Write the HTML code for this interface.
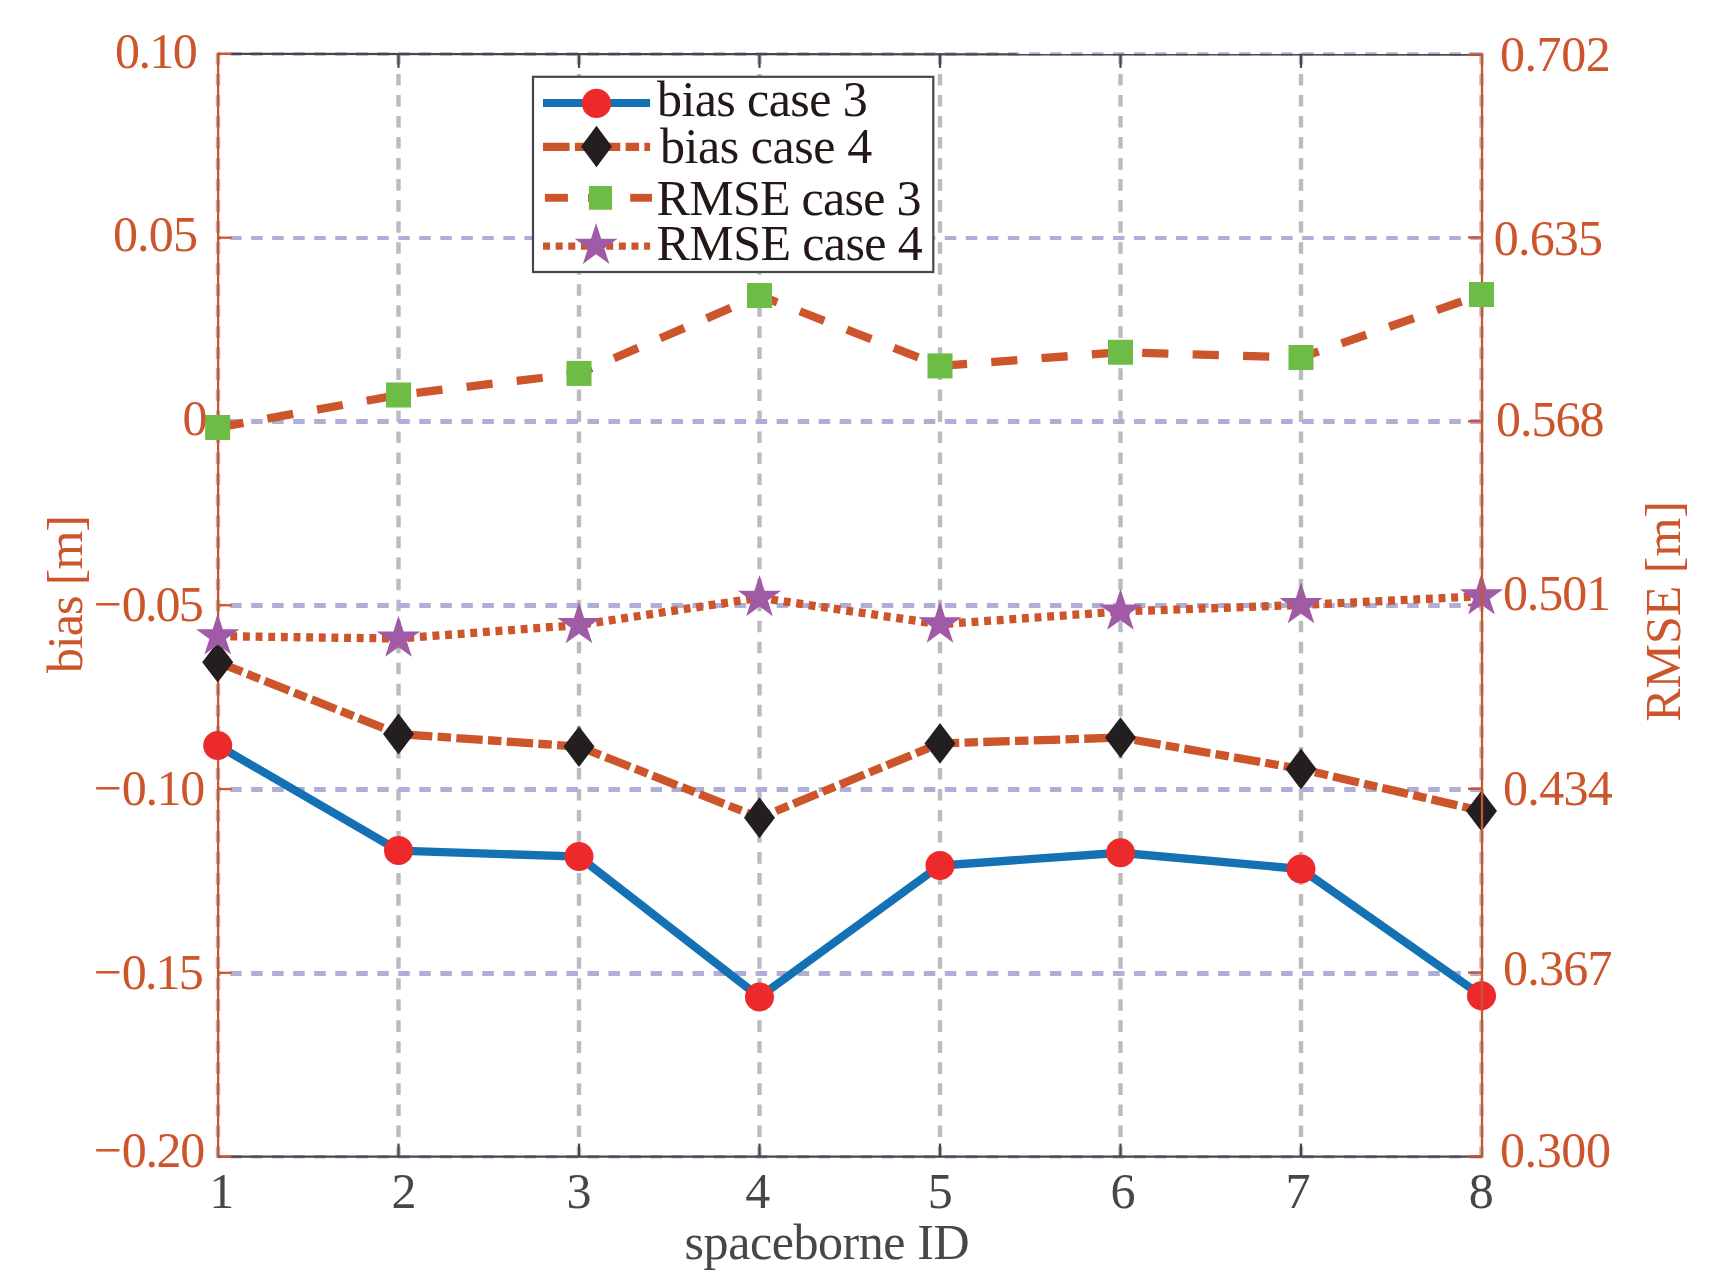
<!DOCTYPE html>
<html lang="en"><head><meta charset="utf-8"><title>bias and RMSE by spaceborne ID</title>
<style>html,body{margin:0;padding:0;background:#fff}svg{display:block}</style></head>
<body>
<svg width="1732" height="1284" viewBox="0 0 1732 1284" font-family="'Liberation Serif', 'Times New Roman', serif">
<rect width="1732" height="1284" fill="#fff"/>
<line x1="218.00" y1="52.90" x2="218.00" y2="1157.60" stroke="#bbbcc0" stroke-width="4.4" stroke-dasharray="11.6 9.43"/>
<line x1="398.50" y1="52.90" x2="398.50" y2="1157.60" stroke="#bbbcc0" stroke-width="4.4" stroke-dasharray="11.6 9.43"/>
<line x1="579.00" y1="52.90" x2="579.00" y2="1157.60" stroke="#bbbcc0" stroke-width="4.4" stroke-dasharray="11.6 9.43"/>
<line x1="759.50" y1="52.90" x2="759.50" y2="1157.60" stroke="#bbbcc0" stroke-width="4.4" stroke-dasharray="11.6 9.43"/>
<line x1="940.00" y1="52.90" x2="940.00" y2="1157.60" stroke="#bbbcc0" stroke-width="4.4" stroke-dasharray="11.6 9.43"/>
<line x1="1120.50" y1="52.90" x2="1120.50" y2="1157.60" stroke="#bbbcc0" stroke-width="4.4" stroke-dasharray="11.6 9.43"/>
<line x1="1301.00" y1="52.90" x2="1301.00" y2="1157.60" stroke="#bbbcc0" stroke-width="4.4" stroke-dasharray="11.6 9.43"/>
<line x1="1481.50" y1="52.90" x2="1481.50" y2="1157.60" stroke="#bbbcc0" stroke-width="4.4" stroke-dasharray="11.6 9.43"/>
<line x1="218.1" y1="54.00" x2="1482.0" y2="54.00" stroke="#b0aed6" stroke-width="3.6" stroke-dasharray="11.5 9.52" stroke-dashoffset="9.00"/>
<line x1="218.1" y1="238.00" x2="1482.0" y2="238.00" stroke="#b0aed6" stroke-width="4" stroke-dasharray="11.5 9.52" stroke-dashoffset="9.00"/>
<line x1="218.1" y1="421.50" x2="1482.0" y2="421.50" stroke="#b0aed6" stroke-width="5" stroke-dasharray="11.5 9.52" stroke-dashoffset="9.00"/>
<line x1="218.1" y1="605.50" x2="1482.0" y2="605.50" stroke="#b0aed6" stroke-width="5" stroke-dasharray="11.5 9.52" stroke-dashoffset="9.00"/>
<line x1="218.1" y1="789.50" x2="1482.0" y2="789.50" stroke="#b0aed6" stroke-width="5" stroke-dasharray="11.5 9.52" stroke-dashoffset="9.00"/>
<line x1="218.1" y1="973.50" x2="1482.0" y2="973.50" stroke="#b0aed6" stroke-width="5" stroke-dasharray="11.5 9.52" stroke-dashoffset="9.00"/>
<line x1="218.1" y1="1156.70" x2="1482.0" y2="1156.70" stroke="#b0aed6" stroke-width="3.6" stroke-dasharray="11.5 9.52" stroke-dashoffset="9.00"/>
<line x1="218.1" y1="53.9" x2="1482.0" y2="54.5" stroke="#48464a" stroke-width="2.3"/>
<line x1="218.1" y1="1156.6" x2="1482.0" y2="1156.6" stroke="#48464a" stroke-width="2.3"/>
<line x1="398.50" y1="53.9" x2="398.50" y2="67.9" stroke="#48464a" stroke-width="2.2"/>
<line x1="398.50" y1="1156.6" x2="398.50" y2="1143.6" stroke="#48464a" stroke-width="2.2"/>
<line x1="579.00" y1="53.9" x2="579.00" y2="67.9" stroke="#48464a" stroke-width="2.2"/>
<line x1="579.00" y1="1156.6" x2="579.00" y2="1143.6" stroke="#48464a" stroke-width="2.2"/>
<line x1="759.50" y1="53.9" x2="759.50" y2="67.9" stroke="#48464a" stroke-width="2.2"/>
<line x1="759.50" y1="1156.6" x2="759.50" y2="1143.6" stroke="#48464a" stroke-width="2.2"/>
<line x1="940.00" y1="53.9" x2="940.00" y2="67.9" stroke="#48464a" stroke-width="2.2"/>
<line x1="940.00" y1="1156.6" x2="940.00" y2="1143.6" stroke="#48464a" stroke-width="2.2"/>
<line x1="1120.50" y1="53.9" x2="1120.50" y2="67.9" stroke="#48464a" stroke-width="2.2"/>
<line x1="1120.50" y1="1156.6" x2="1120.50" y2="1143.6" stroke="#48464a" stroke-width="2.2"/>
<line x1="1301.00" y1="53.9" x2="1301.00" y2="67.9" stroke="#48464a" stroke-width="2.2"/>
<line x1="1301.00" y1="1156.6" x2="1301.00" y2="1143.6" stroke="#48464a" stroke-width="2.2"/>
<line x1="218.1" y1="52.75" x2="218.1" y2="1157.75" stroke="#cd552b" stroke-width="2.3"/>
<line x1="218.1" y1="53.90" x2="231.6" y2="53.90" stroke="#cd552b" stroke-width="2.3"/>
<line x1="218.1" y1="237.68" x2="231.6" y2="237.68" stroke="#cd552b" stroke-width="2.3"/>
<line x1="218.1" y1="421.47" x2="231.6" y2="421.47" stroke="#cd552b" stroke-width="2.3"/>
<line x1="218.1" y1="605.25" x2="231.6" y2="605.25" stroke="#cd552b" stroke-width="2.3"/>
<line x1="218.1" y1="789.03" x2="231.6" y2="789.03" stroke="#cd552b" stroke-width="2.3"/>
<line x1="218.1" y1="972.82" x2="231.6" y2="972.82" stroke="#cd552b" stroke-width="2.3"/>
<line x1="218.1" y1="1156.60" x2="231.6" y2="1156.60" stroke="#cd552b" stroke-width="2.3"/>
<line x1="1482.0" y1="54.50" x2="1468.0" y2="54.50" stroke="#cd552b" stroke-width="2.3"/>
<line x1="1482.0" y1="237.48" x2="1468.0" y2="237.48" stroke="#cd552b" stroke-width="2.3"/>
<line x1="1482.0" y1="421.27" x2="1468.0" y2="421.27" stroke="#cd552b" stroke-width="2.3"/>
<line x1="1482.0" y1="605.05" x2="1468.0" y2="605.05" stroke="#cd552b" stroke-width="2.3"/>
<line x1="1482.0" y1="788.83" x2="1468.0" y2="788.83" stroke="#cd552b" stroke-width="2.3"/>
<line x1="1482.0" y1="972.62" x2="1468.0" y2="972.62" stroke="#cd552b" stroke-width="2.3"/>
<line x1="1482.0" y1="1156.40" x2="1468.0" y2="1156.40" stroke="#cd552b" stroke-width="2.3"/>
<polyline points="217.70,745.40 398.50,850.60 579.00,856.60 759.50,997.00 940.00,865.50 1120.50,852.75 1301.00,869.00 1481.50,995.70" fill="none" stroke="#1471b4" stroke-width="8.3" stroke-linejoin="miter"/>
<circle cx="217.70" cy="745.4" r="14.5" fill="#ed2a2b"/>
<circle cx="398.50" cy="850.6" r="14.5" fill="#ed2a2b"/>
<circle cx="579.00" cy="856.6" r="14.5" fill="#ed2a2b"/>
<circle cx="759.50" cy="997" r="14.5" fill="#ed2a2b"/>
<circle cx="940.00" cy="865.5" r="14.5" fill="#ed2a2b"/>
<circle cx="1120.50" cy="852.75" r="14.5" fill="#ed2a2b"/>
<circle cx="1301.00" cy="869" r="14.5" fill="#ed2a2b"/>
<circle cx="1481.50" cy="995.7" r="14.5" fill="#ed2a2b"/>
<polyline points="217.70,662.20 398.50,734.00 579.00,746.60 759.50,817.75 940.00,743.40 1120.50,737.60 1301.00,769.00 1481.50,811.00" fill="none" stroke="#cd552b" stroke-width="8.3" stroke-dasharray="26.45 5.3 13.45 5.3" stroke-linejoin="miter"/>
<polygon points="217.70,641.80 233.20,662.20 217.70,682.60 202.20,662.20" fill="#231f20"/>
<polygon points="398.50,713.60 414.00,734.00 398.50,754.40 383.00,734.00" fill="#231f20"/>
<polygon points="579.00,726.20 594.50,746.60 579.00,767.00 563.50,746.60" fill="#231f20"/>
<polygon points="759.50,797.35 775.00,817.75 759.50,838.15 744.00,817.75" fill="#231f20"/>
<polygon points="940.00,723.00 955.50,743.40 940.00,763.80 924.50,743.40" fill="#231f20"/>
<polygon points="1120.50,717.20 1136.00,737.60 1120.50,758.00 1105.00,737.60" fill="#231f20"/>
<polygon points="1301.00,748.60 1316.50,769.00 1301.00,789.40 1285.50,769.00" fill="#231f20"/>
<polygon points="1481.50,790.60 1497.00,811.00 1481.50,831.40 1466.00,811.00" fill="#231f20"/>
<polyline points="217.70,636.20 398.50,638.50 579.00,625.00 759.50,597.80 940.00,624.30 1120.50,611.50 1301.00,605.00 1481.50,596.20" fill="none" stroke="#cd552b" stroke-width="8.3" stroke-dasharray="6.9 5.74" stroke-linejoin="miter"/>
<polygon points="217.70,613.50 222.80,629.19 239.29,629.19 225.95,638.88 231.04,654.56 217.70,644.87 204.36,654.56 209.45,638.88 196.11,629.19 212.60,629.19" fill="#a15aa5"/>
<polygon points="398.50,615.80 403.60,631.49 420.09,631.49 406.75,641.18 411.84,656.86 398.50,647.17 385.16,656.86 390.25,641.18 376.91,631.49 393.40,631.49" fill="#a15aa5"/>
<polygon points="579.00,602.30 584.10,617.99 600.59,617.99 587.25,627.68 592.34,643.36 579.00,633.67 565.66,643.36 570.75,627.68 557.41,617.99 573.90,617.99" fill="#a15aa5"/>
<polygon points="759.50,575.10 764.60,590.79 781.09,590.79 767.75,600.48 772.84,616.16 759.50,606.47 746.16,616.16 751.25,600.48 737.91,590.79 754.40,590.79" fill="#a15aa5"/>
<polygon points="940.00,601.60 945.10,617.29 961.59,617.29 948.25,626.98 953.34,642.66 940.00,632.97 926.66,642.66 931.75,626.98 918.41,617.29 934.90,617.29" fill="#a15aa5"/>
<polygon points="1120.50,588.80 1125.60,604.49 1142.09,604.49 1128.75,614.18 1133.84,629.86 1120.50,620.17 1107.16,629.86 1112.25,614.18 1098.91,604.49 1115.40,604.49" fill="#a15aa5"/>
<polygon points="1301.00,582.30 1306.10,597.99 1322.59,597.99 1309.25,607.68 1314.34,623.36 1301.00,613.67 1287.66,623.36 1292.75,607.68 1279.41,597.99 1295.90,597.99" fill="#a15aa5"/>
<polygon points="1481.50,573.50 1486.60,589.19 1503.09,589.19 1489.75,598.88 1494.84,614.56 1481.50,604.87 1468.16,614.56 1473.25,598.88 1459.91,589.19 1476.40,589.19" fill="#a15aa5"/>
<line x1="1482.0" y1="53.4" x2="1482.0" y2="1157.75" stroke="#cd552b" stroke-width="2.3"/>
<polyline points="217.70,427.50 398.50,395.00 579.00,373.40 759.50,295.50 940.00,365.90 1120.50,352.25 1301.00,357.50 1481.50,294.50" fill="none" stroke="#cd552b" stroke-width="8.3" stroke-dasharray="26.2 24.25" stroke-linejoin="miter"/>
<rect x="205.20" y="415.00" width="25" height="25" fill="#6cbc45"/>
<rect x="386.00" y="382.50" width="25" height="25" fill="#6cbc45"/>
<rect x="566.50" y="360.90" width="25" height="25" fill="#6cbc45"/>
<rect x="747.00" y="283.00" width="25" height="25" fill="#6cbc45"/>
<rect x="927.50" y="353.40" width="25" height="25" fill="#6cbc45"/>
<rect x="1108.00" y="339.75" width="25" height="25" fill="#6cbc45"/>
<rect x="1288.50" y="345.00" width="25" height="25" fill="#6cbc45"/>
<rect x="1469.00" y="282.00" width="25" height="25" fill="#6cbc45"/>
<rect x="533" y="76.8" width="400.30" height="195.20" fill="#fff" stroke="#48464a" stroke-width="2.2"/>
<line x1="543" y1="103" x2="650.1" y2="103" stroke="#1471b4" stroke-width="8.1"/>
<circle cx="596.5" cy="103.4" r="14.6" fill="#ed2a2b"/>
<line x1="543" y1="146.85" x2="650.1" y2="146.85" stroke="#cd552b" stroke-width="8.1" stroke-dasharray="26.6 5.3 13.5 5.3"/>
<polygon points="596.50,125.85 611.95,146.50 596.50,167.15 581.05,146.50" fill="#231f20"/>
<line x1="544.9" y1="197.8" x2="567.9" y2="197.8" stroke="#cd552b" stroke-width="7.9"/>
<line x1="588.1" y1="197.8" x2="611" y2="197.8" stroke="#cd552b" stroke-width="7.9"/>
<line x1="630.2" y1="197.8" x2="652" y2="197.8" stroke="#cd552b" stroke-width="7.9"/>
<rect x="588.9" y="186" width="23.1" height="23.76" fill="#6cbc45"/>
<line x1="543" y1="246.1" x2="650.1" y2="246.1" stroke="#cd552b" stroke-width="7.4" stroke-dasharray="7 5.64"/>
<polygon points="596.10,223.10 601.17,238.72 617.59,238.72 604.31,248.37 609.38,263.98 596.10,254.33 582.82,263.98 587.89,248.37 574.61,238.72 591.03,238.72" fill="#a15aa5"/>
<text x="657.00" y="115.70" font-size="50" fill="#231815" letter-spacing="-0.592">bias case 3</text>
<text x="660.00" y="163.40" font-size="50" fill="#231815" letter-spacing="-0.440">bias case 4</text>
<text x="656.56" y="214.90" font-size="50" fill="#231815" letter-spacing="-0.720">RMSE case 3</text>
<text x="656.56" y="259.60" font-size="50" fill="#231815" letter-spacing="-0.587">RMSE case 4</text>
<text x="115.00" y="68.30" font-size="50" fill="#cd552b" letter-spacing="-1.564">0.10</text>
<text x="112.90" y="251.40" font-size="50" fill="#cd552b" letter-spacing="-0.781">0.05</text>
<text x="182.50" y="435.20" font-size="50" fill="#cd552b">0</text>
<text x="93.61" y="621.40" font-size="50" fill="#cd552b">−<tspan letter-spacing="-1.885">0.05</tspan></text>
<text x="93.61" y="805.40" font-size="50" fill="#cd552b">−<tspan letter-spacing="-1.368">0.10</tspan></text>
<text x="93.61" y="989.40" font-size="50" fill="#cd552b">−<tspan letter-spacing="-1.885">0.15</tspan></text>
<text x="93.61" y="1167.40" font-size="50" fill="#cd552b">−<tspan letter-spacing="-1.368">0.20</tspan></text>
<text x="1499.90" y="71.20" font-size="50" fill="#cd552b" letter-spacing="-0.384">0.702</text>
<text x="1493.80" y="255.40" font-size="50" fill="#cd552b" letter-spacing="-0.811">0.635</text>
<text x="1495.90" y="435.80" font-size="50" fill="#cd552b" letter-spacing="-0.948">0.568</text>
<text x="1502.90" y="610.30" font-size="50" fill="#cd552b" letter-spacing="-1.073">0.501</text>
<text x="1502.90" y="805.30" font-size="50" fill="#cd552b" letter-spacing="-0.629">0.434</text>
<text x="1502.90" y="985.40" font-size="50" fill="#cd552b" letter-spacing="-0.714">0.367</text>
<text x="1499.90" y="1167.40" font-size="50" fill="#cd552b" letter-spacing="-0.348">0.300</text>
<text x="209.30" y="1208.20" font-size="50" fill="#48464a">1</text>
<text x="391.43" y="1208.20" font-size="50" fill="#48464a">2</text>
<text x="566.58" y="1208.20" font-size="50" fill="#48464a">3</text>
<text x="745.25" y="1208.20" font-size="50" fill="#48464a">4</text>
<text x="927.72" y="1208.20" font-size="50" fill="#48464a">5</text>
<text x="1110.47" y="1208.20" font-size="50" fill="#48464a">6</text>
<text x="1285.47" y="1208.20" font-size="50" fill="#48464a">7</text>
<text x="1468.80" y="1208.20" font-size="50" fill="#48464a">8</text>
<text x="684.55" y="1259.00" font-size="50" fill="#48464a" letter-spacing="-0.432">spaceborne ID</text>
<text transform="translate(81.80,673.10) rotate(-90)" font-size="50" fill="#cd552b" letter-spacing="-1.032">bias [m]</text>
<text transform="translate(1680.15,721.84) rotate(-90)" font-size="50" fill="#cd552b">RMSE [m]</text>
</svg>
</body></html>
